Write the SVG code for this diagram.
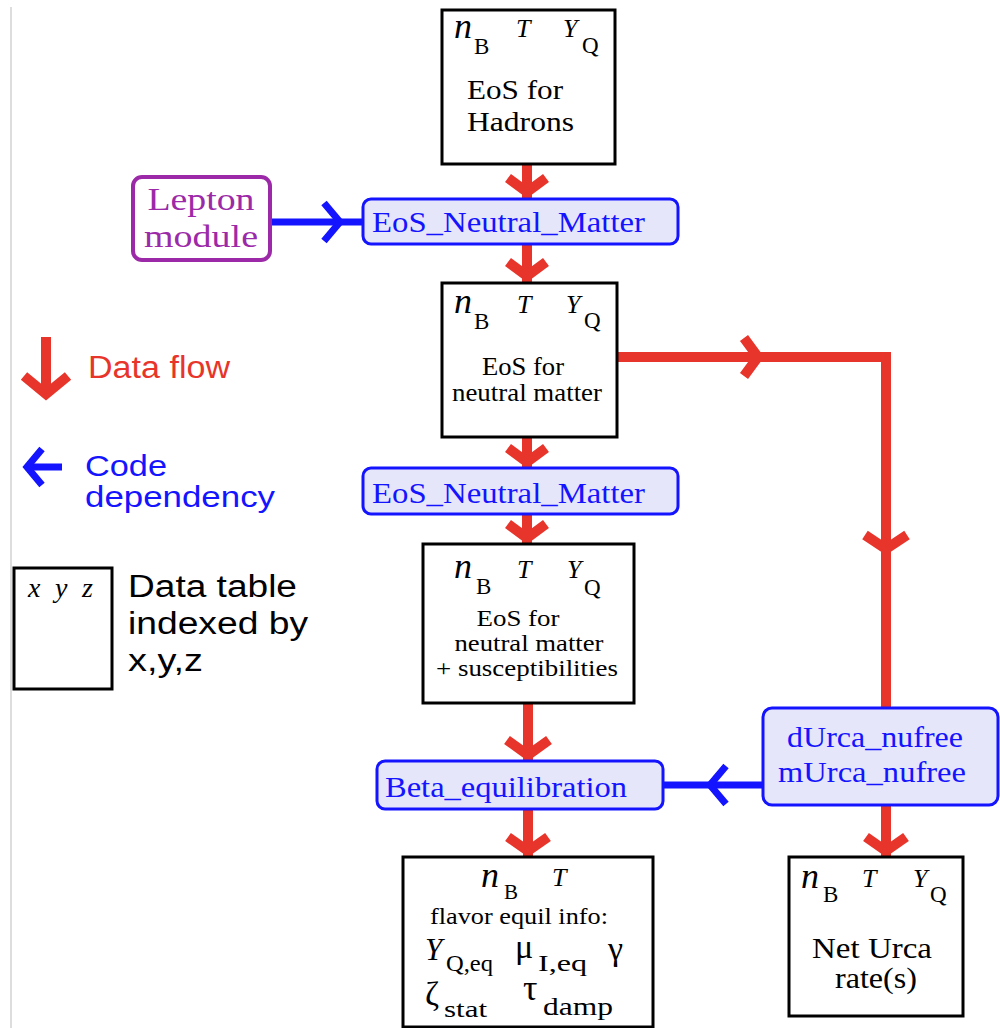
<svg xmlns="http://www.w3.org/2000/svg" width="1000" height="1028" viewBox="0 0 1000 1028">
  <style>
    .box { fill: #ffffff; stroke: #000000; stroke-width: 3; }
    .pill { fill: #e6e6fa; stroke: #1414ff; stroke-width: 3; }
    .lep { fill: #ffffff; stroke: #9c2aa8; stroke-width: 4; }
    .serif { font-family: "Liberation Serif", "Times New Roman", serif; fill: #000000; }
    .mi { font-family: "Liberation Serif", "Times New Roman", serif; font-style: italic; fill: #000000; }
    .code { font-family: "Liberation Serif", "Times New Roman", serif; fill: #1414ff; }
    .sans { font-family: "Liberation Sans", Arial, sans-serif; }
    .red { stroke: #e8352b; stroke-width: 10; fill: none; }
    .blue { stroke: #1414ff; stroke-width: 7; fill: none; }
    .head { stroke-linejoin: miter; stroke-miterlimit: 10; }
  </style>

  <!-- page margin rule -->
  <line x1="11" y1="7" x2="11" y2="1028" stroke="#dddddd" stroke-width="2"/>

  <!-- legend -->
  <g id="legend">
    <line class="red" x1="46" y1="337" x2="46" y2="392"/>
    <polyline class="red head" points="24,376 46,394 68,376"/>
    <text class="sans" x="88" y="378" font-size="31" fill="#e8352b" textLength="142" lengthAdjust="spacingAndGlyphs">Data flow</text>

    <line class="blue" x1="62" y1="467" x2="28" y2="467"/>
    <polyline class="blue head" points="42,449 27,467 42,485"/>
    <text class="sans" x="85" y="476" font-size="29" fill="#1414ff" textLength="82" lengthAdjust="spacingAndGlyphs">Code</text>
    <text class="sans" x="85" y="507" font-size="29" fill="#1414ff" textLength="190" lengthAdjust="spacingAndGlyphs">dependency</text>

    <rect class="box" x="14" y="568" width="98" height="121"/>
    <text class="mi" x="28" y="597" font-size="28" textLength="65" lengthAdjust="spacing">x y z</text>
    <text class="sans" x="128" y="597" font-size="31" fill="#000000" textLength="169" lengthAdjust="spacingAndGlyphs">Data table</text>
    <text class="sans" x="128" y="634" font-size="31" fill="#000000" textLength="180" lengthAdjust="spacingAndGlyphs">indexed by</text>
    <text class="sans" x="128" y="671" font-size="31" fill="#000000" textLength="75" lengthAdjust="spacingAndGlyphs">x,y,z</text>
  </g>

  <!-- connectors -->
  <g id="connectors">
    <!-- data flow, main column -->
    <line class="red" x1="527" y1="164" x2="527" y2="198"/>
    <polyline class="red head" points="508,178 527,192 546,178"/>
    <line class="red" x1="527" y1="244" x2="527" y2="283"/>
    <polyline class="red head" points="508,262 527,276 546,262"/>
    <line class="red" x1="527" y1="437" x2="527" y2="468"/>
    <polyline class="red head" points="508,448 527,462 546,448"/>
    <line class="red" x1="527" y1="514" x2="527" y2="544"/>
    <polyline class="red head" points="508,524 527,538 546,524"/>
    <line class="red" x1="528" y1="703" x2="528" y2="761"/>
    <polyline class="red head" points="507,740 528,755 549,740"/>
    <line class="red" x1="528" y1="809" x2="528" y2="857"/>
    <polyline class="red head" points="508,837 528,851 548,837"/>

    <!-- data flow, side branch -->
    <polyline class="red" points="617,357 886,357 886,708" stroke-linejoin="miter"/>
    <polyline class="red head" points="744,338 758,357 744,376"/>
    <polyline class="red head" points="865,535 886,549 907,535"/>
    <line class="red" x1="886" y1="805" x2="886" y2="857"/>
    <polyline class="red head" points="866,837 886,851 906,837"/>

    <!-- code dependencies -->
    <line class="blue" x1="270" y1="222" x2="363" y2="222"/>
    <polyline class="blue head" points="324,203 340,222 324,241"/>
    <line class="blue" x1="663" y1="785" x2="763" y2="785"/>
    <polyline class="blue head" points="726,766 710,785 726,804"/>
  </g>

  <!-- EoS for hadrons -->
  <g id="eos-hadrons">
    <rect class="box" x="442" y="10" width="173" height="154"/>
    <text class="mi" x="454" y="38" font-size="36">n</text>
    <text class="serif" x="474" y="54" font-size="23">B</text>
    <text class="mi" x="516" y="37" font-size="26">T</text>
    <text class="mi" x="563" y="37" font-size="26">Y</text>
    <text class="serif" x="582" y="53" font-size="23">Q</text>
    <text class="serif" x="467" y="99" font-size="28" textLength="96" lengthAdjust="spacingAndGlyphs">EoS for</text>
    <text class="serif" x="467" y="131" font-size="28" textLength="107" lengthAdjust="spacingAndGlyphs">Hadrons</text>
  </g>

  <!-- lepton module -->
  <g id="lepton-module">
    <rect class="lep" x="133" y="177" width="137" height="83" rx="9"/>
    <text class="serif" x="201" y="210" font-size="32" text-anchor="middle" textLength="107" lengthAdjust="spacingAndGlyphs" style="fill:#9c2aa8">Lepton</text>
    <text class="serif" x="201" y="247" font-size="32" text-anchor="middle" textLength="114" lengthAdjust="spacingAndGlyphs" style="fill:#9c2aa8">module</text>
  </g>

  <!-- EoS_Neutral_Matter (first call) -->
  <g id="eos-neutral-matter-1">
    <rect class="pill" x="363" y="199" width="315" height="45" rx="8"/>
    <text class="code" x="372" y="232" font-size="29" textLength="273" lengthAdjust="spacingAndGlyphs">EoS_Neutral_Matter</text>
  </g>

  <!-- EoS for neutral matter -->
  <g id="eos-neutral">
    <rect class="box" x="442" y="283" width="175" height="154"/>
    <text class="mi" x="454" y="313" font-size="36">n</text>
    <text class="serif" x="474" y="329" font-size="23">B</text>
    <text class="mi" x="517" y="313" font-size="26">T</text>
    <text class="mi" x="566" y="313" font-size="26">Y</text>
    <text class="serif" x="584" y="328" font-size="23">Q</text>
    <text class="serif" x="523" y="375" font-size="25" text-anchor="middle" textLength="82" lengthAdjust="spacingAndGlyphs">EoS for</text>
    <text class="serif" x="527" y="401" font-size="25" text-anchor="middle" textLength="150" lengthAdjust="spacingAndGlyphs">neutral matter</text>
  </g>

  <!-- EoS_Neutral_Matter (second call) -->
  <g id="eos-neutral-matter-2">
    <rect class="pill" x="363" y="468" width="315" height="46" rx="8"/>
    <text class="code" x="372" y="503" font-size="29" textLength="273" lengthAdjust="spacingAndGlyphs">EoS_Neutral_Matter</text>
  </g>

  <!-- EoS for neutral matter + susceptibilities -->
  <g id="eos-susceptibilities">
    <rect class="box" x="423" y="544" width="211" height="159"/>
    <text class="mi" x="454" y="578" font-size="36">n</text>
    <text class="serif" x="476" y="594" font-size="23">B</text>
    <text class="mi" x="517" y="578" font-size="26">T</text>
    <text class="mi" x="567" y="578" font-size="26">Y</text>
    <text class="serif" x="584" y="595" font-size="23">Q</text>
    <text class="serif" x="518" y="626" font-size="23" text-anchor="middle" textLength="83" lengthAdjust="spacingAndGlyphs">EoS for</text>
    <text class="serif" x="529" y="651" font-size="23" text-anchor="middle" textLength="149" lengthAdjust="spacingAndGlyphs">neutral matter</text>
    <text class="serif" x="527" y="676" font-size="23" text-anchor="middle" textLength="182" lengthAdjust="spacingAndGlyphs">+ susceptibilities</text>
  </g>

  <!-- Beta_equilibration -->
  <g id="beta-equilibration">
    <rect class="pill" x="377" y="761" width="286" height="48" rx="8"/>
    <text class="code" x="385" y="797" font-size="30" textLength="242" lengthAdjust="spacingAndGlyphs">Beta_equilibration</text>
  </g>

  <!-- flavor equilibrium info -->
  <g id="flavor-equil">
    <rect class="box" x="403" y="857" width="250" height="170"/>
    <text class="mi" x="481" y="887" font-size="36">n</text>
    <text class="serif" x="504" y="899" font-size="21">B</text>
    <text class="mi" x="552" y="886" font-size="26">T</text>
    <text class="serif" x="519" y="924" font-size="23" text-anchor="middle" textLength="178" lengthAdjust="spacingAndGlyphs">flavor equil info:</text>
    <text class="mi" x="425" y="960" font-size="31">Y</text>
    <text class="serif" x="446" y="971" font-size="23" textLength="47" lengthAdjust="spacingAndGlyphs">Q,eq</text>
    <text class="serif" x="515" y="958" font-size="34">μ</text>
    <text class="serif" x="538" y="971" font-size="23" textLength="49" lengthAdjust="spacingAndGlyphs">I,eq</text>
    <text class="serif" x="608" y="960" font-size="34">γ</text>
    <text class="serif" x="425" y="1005" font-size="34">ζ</text>
    <text class="serif" x="444" y="1017" font-size="24" textLength="43" lengthAdjust="spacingAndGlyphs">stat</text>
    <text class="serif" x="523" y="1000" font-size="36">τ</text>
    <text class="serif" x="543" y="1015" font-size="25" textLength="70" lengthAdjust="spacingAndGlyphs">damp</text>
  </g>

  <!-- Urca rate modules -->
  <g id="urca-modules">
    <rect class="pill" x="763" y="708" width="235" height="97" rx="9"/>
    <text class="code" x="787" y="747" font-size="29" textLength="176" lengthAdjust="spacingAndGlyphs">dUrca_nufree</text>
    <text class="code" x="778" y="782" font-size="29" textLength="188" lengthAdjust="spacingAndGlyphs">mUrca_nufree</text>
  </g>

  <!-- Net Urca rates -->
  <g id="net-urca">
    <rect class="box" x="789" y="857" width="174" height="159"/>
    <text class="mi" x="801" y="888" font-size="36">n</text>
    <text class="serif" x="823" y="902" font-size="23">B</text>
    <text class="mi" x="862" y="887" font-size="26">T</text>
    <text class="mi" x="913" y="887" font-size="26">Y</text>
    <text class="serif" x="930" y="902" font-size="23">Q</text>
    <text class="serif" x="872" y="958" font-size="30" text-anchor="middle" textLength="120" lengthAdjust="spacingAndGlyphs">Net Urca</text>
    <text class="serif" x="876" y="988" font-size="30" text-anchor="middle" textLength="82" lengthAdjust="spacingAndGlyphs">rate(s)</text>
  </g>
</svg>
